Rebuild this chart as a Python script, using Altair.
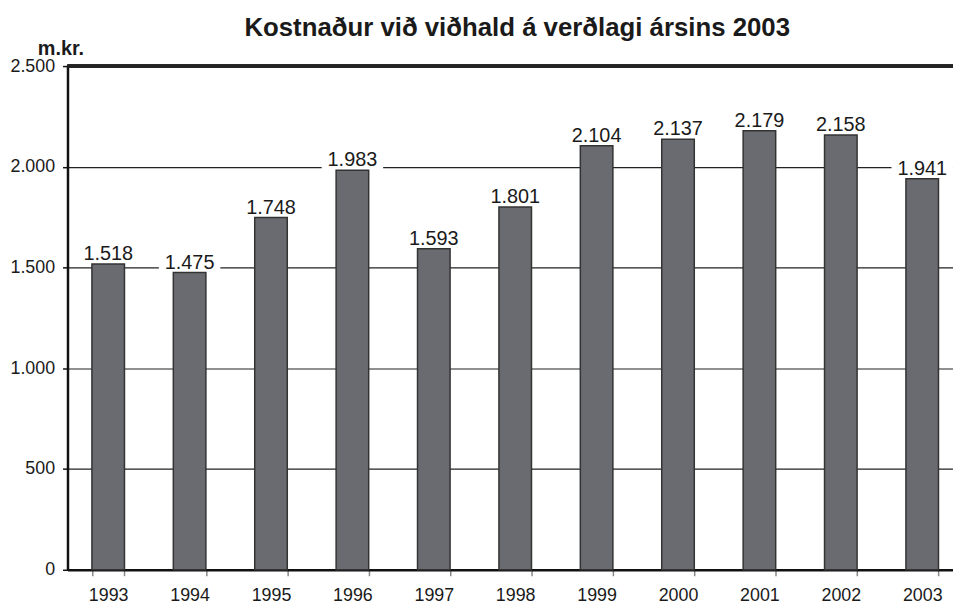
import altair as alt
import pandas as pd

years = ["1993", "1994", "1995", "1996", "1997", "1998", "1999", "2000", "2001", "2002", "2003"]
values = [1518, 1475, 1748, 1983, 1593, 1801, 2104, 2137, 2179, 2158, 1941]
y_ticks = [0, 500, 1000, 1500, 2000, 2500]

df = pd.DataFrame({"year": years, "value": values})
df["label"] = [f"{v:,}".replace(",", ".") for v in values]

FONT = "Liberation Sans"

x_enc = alt.X(
    "year:N",
    sort=years,
    scale=alt.Scale(range=[0, 903], paddingInner=0.6, paddingOuter=0.3),
    axis=alt.Axis(
        title=None, labelAngle=0, tickBand="extent", grid=False,
        domainColor="#111111", domainWidth=2.5,
        tickColor="#888888", tickWidth=1.5, tickSize=6,
        labelFont=FONT, labelFontSize=18, labelColor="#1a1a1a", labelPadding=11,
    ),
)

y_scale = alt.Scale(domain=[0, 2500], nice=False)
y_axis = alt.Axis(
    title="m.kr.", titleAngle=0, titleAlign="left", titleBaseline="alphabetic",
    titleX=-30.5, titleY=-12, titleFont=FONT, titleFontSize=20, titleFontWeight="bold",
    titleColor="#1a1a1a",
    values=y_ticks, labelExpr="replace(format(datum.value, ','), ',', '.')",
    labelFont=FONT, labelFontSize=18, labelColor="#1a1a1a", labelPadding=8,
    domainColor="#111111", domainWidth=2.5, tickColor="#111111", tickWidth=1.5, tickSize=5,
    grid=True, gridColor="#222222", gridWidth=1.2,
)

base = alt.Chart(df)

box = base.mark_bar(color="white", size=62).transform_calculate(
    hi="datum.value + 115"
).encode(
    x=x_enc,
    y=alt.Y("value:Q", scale=y_scale, axis=y_axis),
    y2="hi:Q",
)

bars = base.mark_bar(color="#6a6b70", stroke="#333333", strokeWidth=1.5).encode(
    x=x_enc,
    y=alt.Y("value:Q", scale=y_scale, axis=y_axis),
)

text = base.mark_text(dy=-4, baseline="alphabetic", fontSize=20, font=FONT, color="#1a1a1a").encode(
    x=x_enc,
    y=alt.Y("value:Q", scale=y_scale, axis=y_axis),
    text="label:N",
)

top = base.mark_rule(color="#222222", strokeWidth=2.5).encode(
    y=alt.YDatum(2500, scale=y_scale),
)

chart = alt.layer(box, bars, text, top).properties(
    width=893,
    height=508,
    autosize=alt.AutoSizeParams(type="none"),
    padding={"left": 60, "top": 56, "right": 0, "bottom": 38},
    title=alt.TitleParams(
        "Kostnaður við viðhald á verðlagi ársins 2003",
        font=FONT, fontSize=26, fontWeight="bold", color="#1a1a1a",
        anchor="middle", frame="group", offset=4, baseline="alphabetic", dx=7, dy=28,
    ),
).configure_view(strokeWidth=0)

chart.save("out.html", embed_options={"renderer": "svg", "actions": False})
